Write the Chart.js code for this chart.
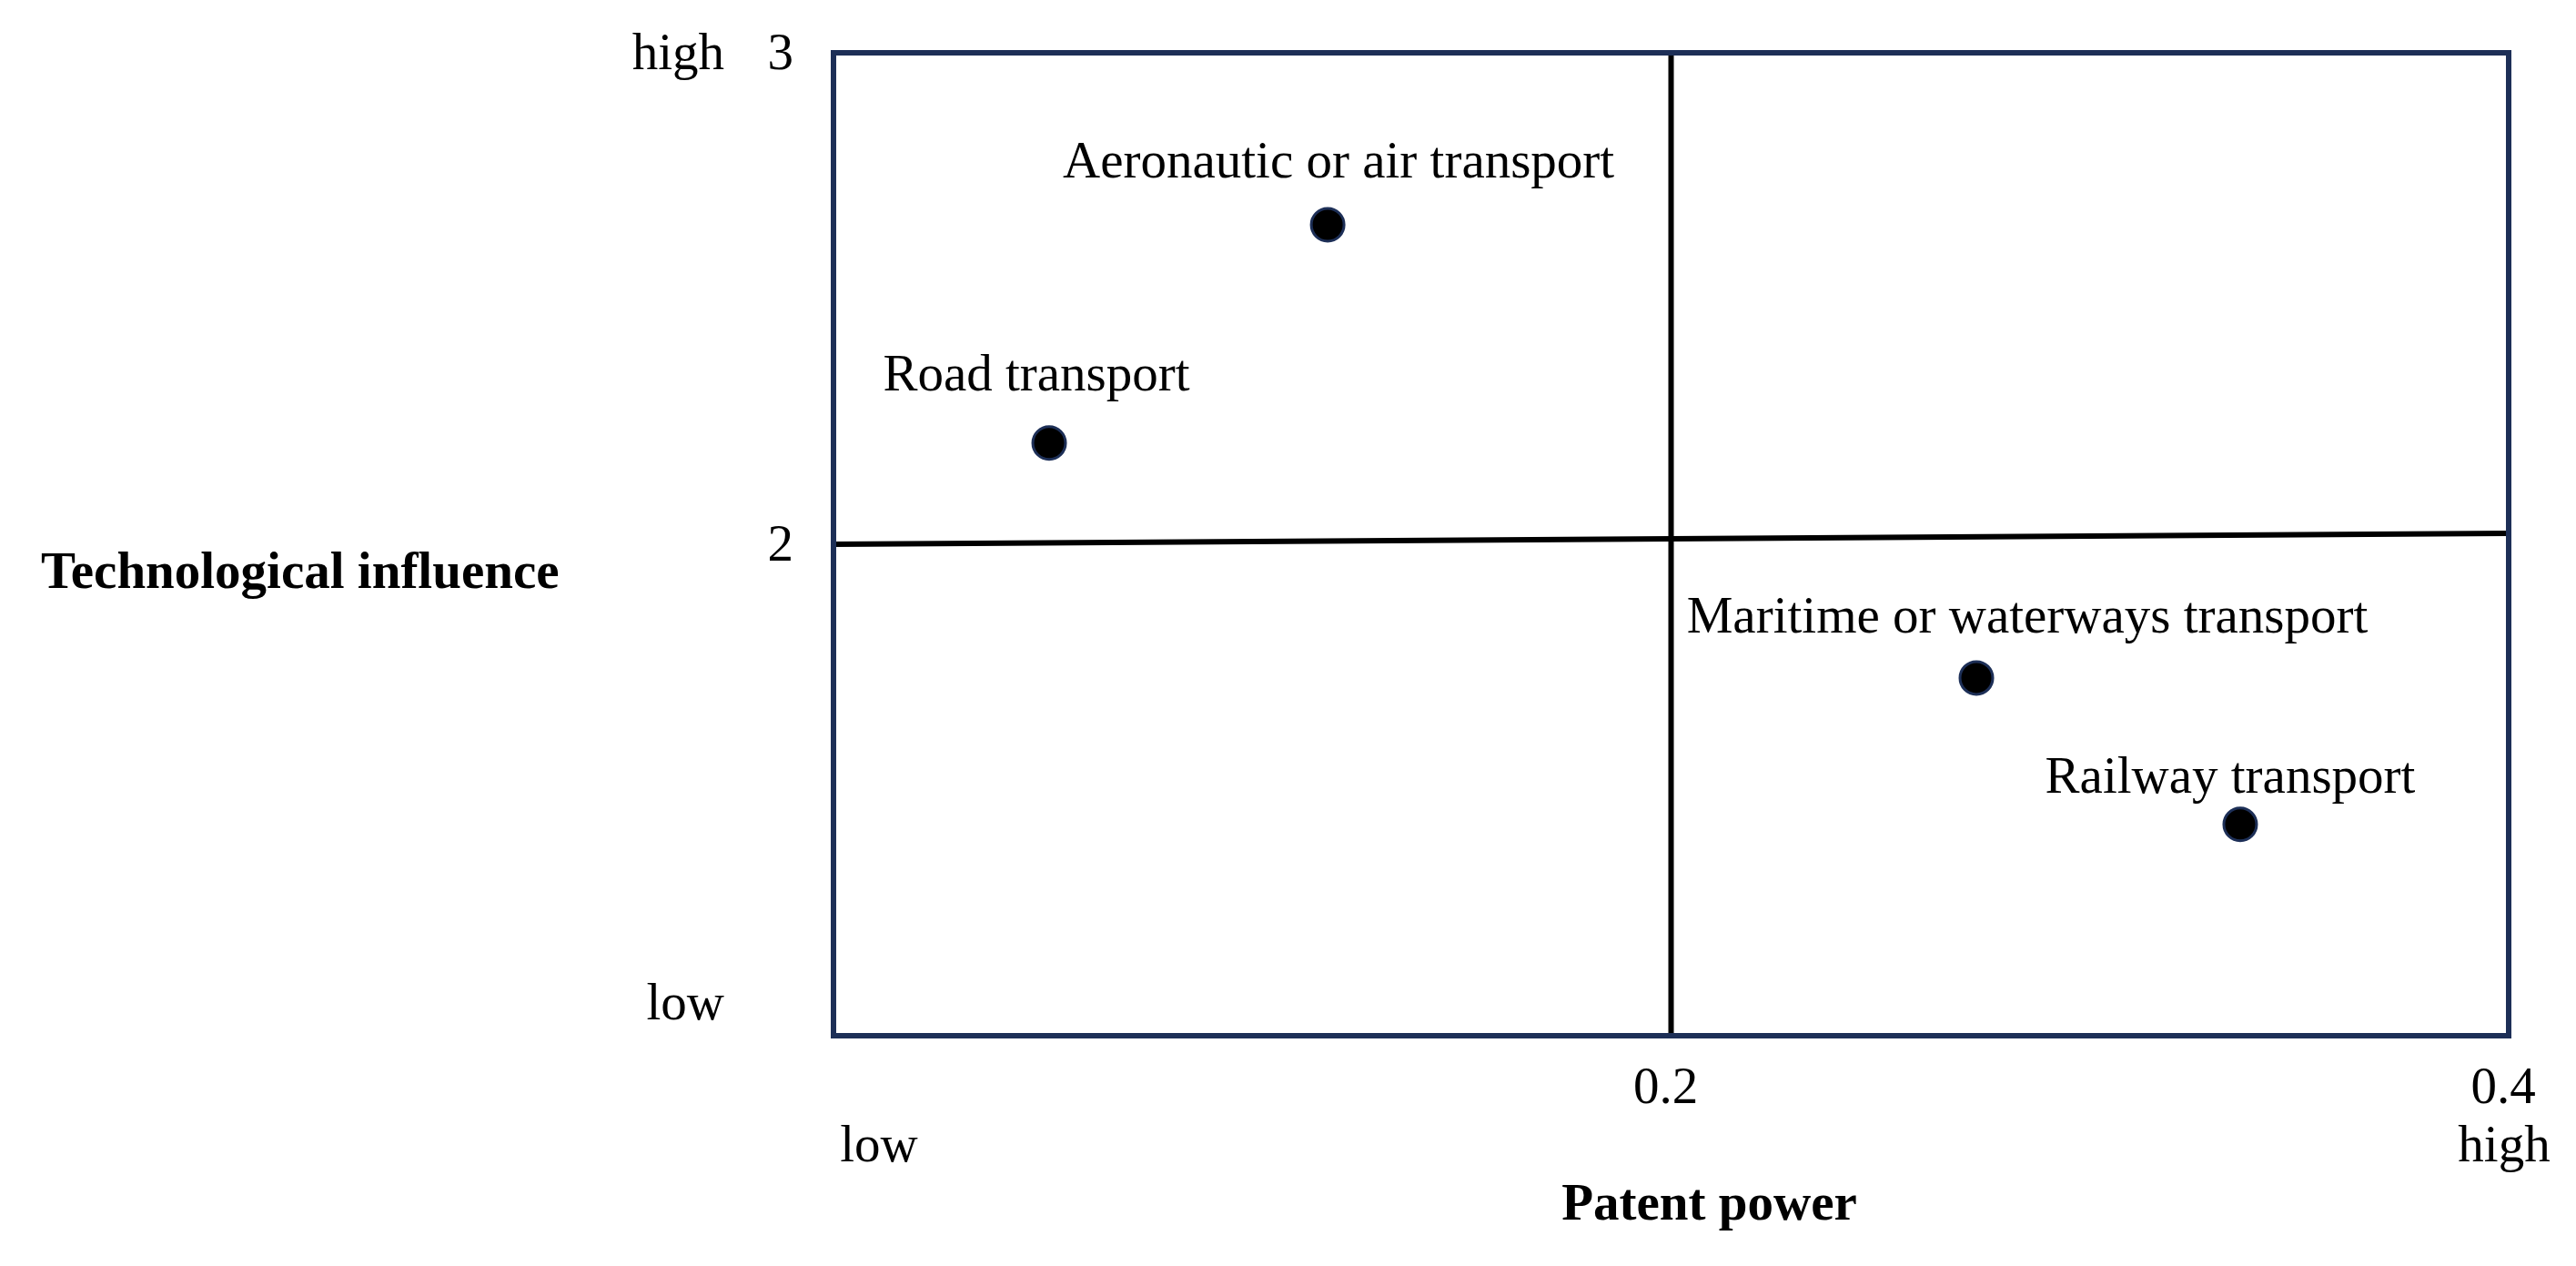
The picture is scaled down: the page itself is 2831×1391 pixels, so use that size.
<!DOCTYPE html>
<html>
<head>
<meta charset="utf-8">
<script src="https://cdn.jsdelivr.net/npm/chart.js@4.4.1/dist/chart.umd.min.js"></script>
<style>
    body { margin: 0; background: #ffffff; }
    #wrap { width: 2831px; height: 1391px; }
</style>
</head>
<body>
<div id="wrap"><canvas id="quadrantChart" width="2831" height="1391"></canvas></div>
<script>
// values
const sectors = ['Aeronautic or air transport', 'Road transport', 'Maritime or waterways transport', 'Railway transport'];
const patentPower = [0.118, 0.0515, 0.2729, 0.3359];
const techInfluence = [2.65, 2.206, 1.728, 1.430];

// quadrant dividers
const verticalDividerX = [0.2, 0.2];
const verticalDividerY = [1, 3];
const horizontalDividerX = [0, 0.4];
const horizontalDividerY = [2, 2.022];

// axis ticks and labels
const xTicks = [0.2, 0.4];
const yTicks = [3, 2];
const xLowHigh = ['low', 'high'];
const yLowHigh = ['high', 'low'];
const xTitle = 'Patent power';
const yTitle = 'Technological influence';

const serif = '"Liberation Serif", "Times New Roman", serif';
const navy = '#1d2f57';

// label offsets from their point, in pixels
const labelOffsets = [[12, -52], [-14, -58], [56, -50], [-11, -35]];

const quadrantText = {
    id: 'quadrantText',
    afterDraw(chart) {
        const ctx = chart.ctx;
        const area = chart.chartArea;
        const xs = chart.scales.x;
        const ys = chart.scales.y;
        ctx.save();

        // frame
        ctx.strokeStyle = navy;
        ctx.lineWidth = 6;
        ctx.strokeRect(area.left, area.top, area.right - area.left, area.bottom - area.top);

        ctx.fillStyle = '#000000';
        ctx.font = '57px ' + serif;

        // point labels
        ctx.textAlign = 'center';
        ctx.textBaseline = 'alphabetic';
        const meta = chart.getDatasetMeta(0);
        meta.data.forEach((pt, i) => {
            ctx.fillText(sectors[i], pt.x + labelOffsets[i][0], pt.y + labelOffsets[i][1]);
        });

        // x tick numbers
        xTicks.forEach(v => {
            ctx.fillText(String(v), xs.getPixelForValue(v) - 6, area.bottom + 74);
        });
        ctx.fillText(xLowHigh[0], area.left + 50, area.bottom + 138);
        ctx.fillText(xLowHigh[1], area.right - 5, area.bottom + 138);

        // y tick numbers
        ctx.textAlign = 'right';
        ctx.textBaseline = 'middle';
        yTicks.forEach(v => {
            ctx.fillText(String(v), area.left - 44, ys.getPixelForValue(v) + 3);
        });
        ctx.fillText(yLowHigh[0], area.left - 120, ys.getPixelForValue(3) + 3);
        ctx.fillText(yLowHigh[1], area.left - 120, area.bottom - 33);

        // axis titles
        ctx.font = 'bold 57px ' + serif;
        ctx.textAlign = 'center';
        ctx.textBaseline = 'alphabetic';
        ctx.fillText(xTitle, (area.left + area.right) / 2 + 42, area.bottom + 202);
        ctx.textAlign = 'left';
        ctx.fillText(yTitle, 45, 646);

        ctx.restore();
    }
};

const ctx = document.getElementById('quadrantChart').getContext('2d');

new Chart(ctx, {
    type: 'scatter',
    data: {
        datasets: [
            {
                label: 'Transport sectors',
                data: patentPower.map((x, i) => ({x: x, y: techInfluence[i]})),
                backgroundColor: '#000000',
                borderColor: navy,
                borderWidth: 3,
                pointRadius: 18,
                pointHoverRadius: 18,
                order: 0
            },
            {
                label: 'vertical divider',
                data: verticalDividerX.map((x, i) => ({x: x, y: verticalDividerY[i]})),
                showLine: true,
                borderColor: '#000000',
                borderWidth: 6,
                pointRadius: 0,
                order: 1
            },
            {
                label: 'horizontal divider',
                data: horizontalDividerX.map((x, i) => ({x: x, y: horizontalDividerY[i]})),
                showLine: true,
                borderColor: '#000000',
                borderWidth: 6,
                pointRadius: 0,
                order: 1
            }
        ]
    },
    options: {
        responsive: false,
        animation: false,
        devicePixelRatio: 1,
        layout: {
            padding: {left: 916, right: 74, top: 58, bottom: 253}
        },
        plugins: {
            legend: {display: false},
            tooltip: {enabled: false}
        },
        scales: {
            x: {type: 'linear', min: 0, max: 0.4, display: false},
            y: {type: 'linear', min: 1, max: 3, display: false}
        }
    },
    plugins: [quadrantText]
});
</script>
</body>
</html>
